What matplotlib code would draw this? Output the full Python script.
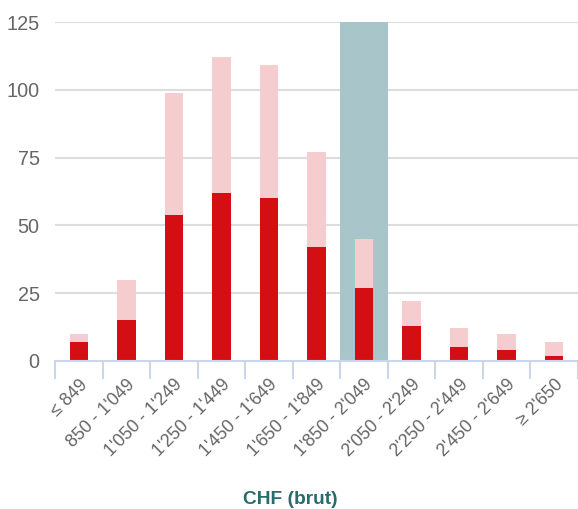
import matplotlib.pyplot as plt
import numpy as np

plt.rcParams['font.family'] = ['Liberation Sans', 'DejaVu Sans']

# salary brackets (CHF brut)
categories = ["≤ 849", "850 - 1'049", "1'050 - 1'249", "1'250 - 1'449", "1'450 - 1'649",
              "1'650 - 1'849", "1'850 - 2'049", "2'050 - 2'249", "2'250 - 2'449",
              "2'450 - 2'649", "≥ 2'650"]
red_values = [7, 15, 54, 62, 60, 42, 27, 13, 5, 4, 2]
total_values = [10, 30, 99, 112, 109, 77, 45, 22, 12, 10, 7]
highlight = "1'850 - 2'049"

fig = plt.figure(figsize=(5.78, 5.09), dpi=100)
ax = fig.add_axes([55/578, 148/509, 523/578, 339/509])

x = np.arange(len(categories))
hi = categories.index(highlight)
ax.bar(hi, 125, width=1.0, color='#a8c6c9', zorder=1)

for v in [25, 50, 75, 100, 125]:
    ax.axhline(v, color='#dddddd', lw=1.5, zorder=0.5)

ax.bar(x, total_values, width=0.39, color='#f6cdcf', zorder=2)
ax.bar(x, red_values, width=0.39, color='#d40f14', zorder=3)

ax.set_xlim(-0.5, len(categories) - 0.5)
ax.set_ylim(0, 125)
ax.set_yticks([0, 25, 50, 75, 100, 125])
ax.tick_params(axis='y', length=0, pad=11, labelsize=14.3, labelcolor='#666666')

ax.set_xticks(x)
ax.set_xticklabels(categories, rotation=45, ha='right', rotation_mode='anchor',
                   fontsize=12.8, color='#666666')
ax.set_xticks(np.arange(len(categories) + 1) - 0.5, minor=True)
ax.tick_params(axis='x', which='major', length=0, pad=11)
ax.tick_params(axis='x', which='minor', length=13, width=1.5, color='#ccd6eb')

for s in ['top', 'right', 'left']:
    ax.spines[s].set_visible(False)
ax.spines['bottom'].set_color('#ccd6eb')
ax.spines['bottom'].set_linewidth(1.5)
ax.spines['bottom'].set_zorder(4)

fig.text(290/578, 1 - 499/509, "CHF (brut)", ha='center', va='center',
         fontsize=13.8, fontweight='bold', color='#2a6b6b')

fig.savefig('out.png', dpi=100)
